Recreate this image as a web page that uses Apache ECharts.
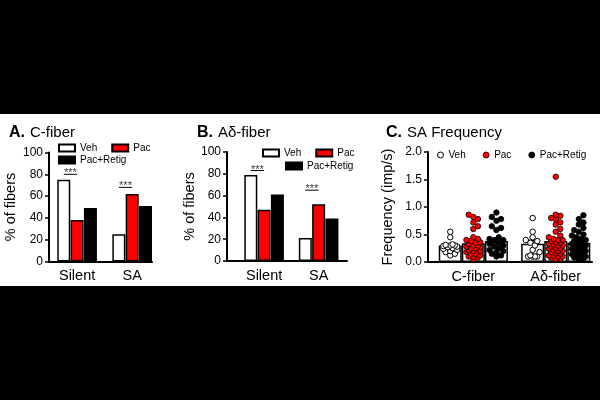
<!DOCTYPE html>
<html>
<head>
<meta charset="utf-8">
<script src="https://cdn.jsdelivr.net/npm/echarts@6/dist/echarts.min.js"></script>
<style>
  html, body { margin: 0; padding: 0; background: #000; }
  #main {
    width: 600px; height: 400px;
    background: linear-gradient(#000 0 114px, #fff 114px 286px, #000 286px);
  }
</style>
</head>
<body>
<div id="main"></div>
<script>
// categories
const statusCats = ['Silent', 'SA']
const fiberCats = ['C-fiber', 'A\u03b4-fiber']
const groupNames = ['Veh', 'Pac', 'Pac+Retig']

// A. C-fiber, % of fibers (Silent, SA)
const cVeh = [75, 25]
const cPac = [38, 62]
const cRetig = [49, 51]

// B. Adelta-fiber, % of fibers (Silent, SA)
const adVeh = [79, 21]
const adPac = [47, 52]
const adRetig = [61, 39]

// C. SA frequency means and sem (C-fiber, Adelta-fiber)
const freqVeh = [0.30, 0.33]
const freqPac = [0.34, 0.38]
const freqRetig = [0.38, 0.35]
const semVeh = [0.03, 0.06]
const semPac = [0.04, 0.04]
const semRetig = [0.06, 0.03]

// C. individual fibers (imp/s)
const cVehDots = [0.55, 0.45, 0.32, 0.31, 0.3, 0.3, 0.29, 0.28, 0.27, 0.25, 0.24, 0.22, 0.2, 0.18, 0.15, 0.12]
const cPacDots = [0.86, 0.82, 0.78, 0.72, 0.65, 0.6, 0.45, 0.42, 0.4, 0.38, 0.36, 0.35, 0.33, 0.3, 0.3, 0.28, 0.27,
  0.25, 0.25, 0.22, 0.2, 0.2, 0.18, 0.15, 0.15, 0.12, 0.1, 0.1, 0.08, 0.05]
const cRetigDots = [0.9, 0.82, 0.78, 0.75, 0.65, 0.62, 0.58, 0.45, 0.42, 0.4, 0.38, 0.35, 0.33, 0.3, 0.28, 0.25,
  0.22, 0.2, 0.18, 0.15, 0.12, 0.1]
const adVehDots = [0.8, 0.55, 0.45, 0.4, 0.38, 0.35, 0.3, 0.22, 0.18, 0.12, 0.1, 0.1, 0.1, 0.1]
const adPacDots = [1.55, 0.86, 0.84, 0.8, 0.78, 0.72, 0.68, 0.6, 0.55, 0.48, 0.45, 0.42, 0.4, 0.4, 0.38, 0.36, 0.35,
  0.33, 0.32, 0.3, 0.3, 0.28, 0.26, 0.25, 0.24, 0.22, 0.2, 0.2, 0.18, 0.16, 0.15, 0.12, 0.12, 0.1, 0.1, 0.08, 0.06, 0.05]
const adRetigDots = [0.85, 0.78, 0.72, 0.68, 0.62, 0.58, 0.55, 0.5, 0.48, 0.45, 0.42, 0.4, 0.38, 0.36, 0.35, 0.33,
  0.32, 0.3, 0.3, 0.28, 0.27, 0.25, 0.24, 0.22, 0.2, 0.2, 0.18, 0.16, 0.15, 0.14, 0.12, 0.1, 0.1, 0.08, 0.06, 0.05]

// significance (Veh vs Pac) heights
const sigA = [80, 68]
const sigB = [83, 65]

const FONT = 'Liberation Sans, Arial, sans-serif'
const RED = '#ff0000'

// layout of each panel (x axis in "category" units)
const panels = [
  { left: 49, top: 152.5, width: 103, height: 109, xMax: 1.87, centers: [0.51, 1.51], step: 0.242, barW: 13 },
  { left: 227, top: 152, width: 120, height: 109, xMax: 2.2, centers: [0.68, 1.68], step: 0.244, barW: 13 },
  { left: 428, top: 152, width: 164, height: 110, xMax: 1.99, centers: [0.55, 1.55], step: 0.28, barW: 23 }
]

let myChart = echarts.init(document.getElementById('main'))

const barStyles = [
  { color: '#fff', borderColor: '#000', borderWidth: 1.5 },
  { color: RED, borderColor: '#000', borderWidth: 1.5 },
  { color: '#000', borderColor: '#000', borderWidth: 1.5 }
]

function xAxisFor (i, labels) {
  const p = panels[i]
  return {
    type: 'value', gridIndex: i, min: 0, max: p.xMax,
    axisLine: { show: true, lineStyle: { color: '#000', width: 2 } },
    axisTick: { show: false },
    splitLine: { show: false },
    axisLabel: {
      customValues: p.centers,
      formatter: function (v) {
        let k = Math.abs(v - p.centers[0]) < Math.abs(v - p.centers[1]) ? 0 : 1
        return labels[k]
      },
      color: '#000', fontSize: 14.5, fontFamily: FONT, margin: 7
    }
  }
}

function yAxisFor (i, max, interval, name, nameGap, fmt) {
  return {
    type: 'value', gridIndex: i, min: 0, max: max, interval: interval,
    name: name, nameLocation: 'middle', nameGap: nameGap,
    nameTextStyle: { color: '#000', fontSize: 14.5, fontFamily: FONT },
    axisLine: { show: true, lineStyle: { color: '#000', width: 2 } },
    axisTick: { show: true, length: 4, lineStyle: { color: '#000', width: 1.5 } },
    splitLine: { show: false },
    axisLabel: { color: '#000', fontSize: 12, fontFamily: FONT, margin: 6, formatter: fmt }
  }
}

function pctBars (i, lists) {
  const p = panels[i]
  return lists.map((vals, g) => ({
    name: groupNames[g], type: 'bar',
    xAxisIndex: i, yAxisIndex: i,
    barWidth: p.barW, barGap: '-100%',
    itemStyle: barStyles[g],
    data: p.centers.map((c, k) => [c + (g - 1) * p.step, vals[k]])
  }))
}

function sigMarks (i, heights) {
  const p = panels[i]
  const out = []
  heights.forEach((h, k) => {
    const x1 = p.centers[k] - p.step
    const x2 = p.centers[k]
    out.push({
      type: 'line', xAxisIndex: i, yAxisIndex: i, symbol: 'none', silent: true,
      lineStyle: { color: '#000', width: 1 }, z: 4,
      data: [[x1, h], [x2, h]]
    })
    out.push({
      type: 'scatter', xAxisIndex: i, yAxisIndex: i, symbolSize: 0, silent: true, z: 4,
      label: { show: true, position: 'inside', offset: [0, -1], formatter: '***', color: '#000', fontSize: 11, fontFamily: FONT },
      data: [[(x1 + x2) / 2, h]]
    })
  })
  return out
}

// spread dots of one group sideways inside its bar (beeswarm)
function swarm (vals, cx) {
  const d = 4.6
  const maxOff = 9
  const pxX = panels[2].width / panels[2].xMax
  const pxY = panels[2].height / 2
  const placed = []
  const out = []
  vals.slice().sort((a, b) => a - b).forEach(v => {
    const py = v * pxY
    let best = 0
    let bestDist = -1
    for (let k = 0; k < 9; k++) {
      const off = (k % 2 ? 1 : -1) * Math.ceil(k / 2) * d / 2 * 1.0
      if (Math.abs(off) > maxOff) continue
      let dist = placed.reduce((m, q) => Math.min(m, Math.hypot(q[0] - off, q[1] - py)), 99)
      if (dist >= d) { best = off; bestDist = dist; break }
      if (dist > bestDist) { best = off; bestDist = dist }
    }
    placed.push([best, py])
    out.push([cx + best / pxX, v])
  })
  return out
}

const pC = panels[2]
const freqMeans = [freqVeh, freqPac, freqRetig]
const freqSems = [semVeh, semPac, semRetig]
const dotSets = [[cVehDots, adVehDots], [cPacDots, adPacDots], [cRetigDots, adRetigDots]]
const dotStyles = [
  { color: '#fff', borderColor: '#000', borderWidth: 1, opacity: 1 },
  { color: RED, borderColor: '#000', borderWidth: 0.8, opacity: 1 },
  { color: '#000', borderColor: '#000', borderWidth: 0.8, opacity: 1 }
]

const freqBars = freqMeans.map((vals, g) => ({
  type: 'bar', xAxisIndex: 2, yAxisIndex: 2,
  barWidth: pC.barW, barGap: '-100%', silent: true,
  itemStyle: { color: '#fff', borderColor: '#000', borderWidth: 1.5 },
  data: pC.centers.map((c, k) => [c + (g - 1) * pC.step, vals[k]])
}))

const errBars = {
  type: 'custom', xAxisIndex: 2, yAxisIndex: 2, z: 3, silent: true,
  renderItem: function (params, api) {
    const x = api.value(0)
    const top = api.coord([x, api.value(1) + api.value(2)])
    const base = api.coord([x, api.value(1)])
    const st = { stroke: '#000', lineWidth: 1.5 }
    return {
      type: 'group',
      children: [
        { type: 'line', shape: { x1: base[0], y1: base[1], x2: top[0], y2: top[1] }, style: st },
        { type: 'line', shape: { x1: top[0] - 4, y1: top[1], x2: top[0] + 4, y2: top[1] }, style: st }
      ]
    }
  },
  data: [].concat(...freqMeans.map((vals, g) =>
    pC.centers.map((c, k) => [c + (g - 1) * pC.step, vals[k], freqSems[g][k]])))
}

const dotSeries = dotSets.map((sets, g) => ({
  name: groupNames[g], type: 'scatter', xAxisIndex: 2, yAxisIndex: 2, z: 5,
  symbolSize: 5.5, itemStyle: dotStyles[g],
  data: [].concat(...sets.map((vals, k) => swarm(vals, pC.centers[k] + (g - 1) * pC.step)))
}))

function titleFor (left, letter, text) {
  return {
    left: left, top: 119,
    text: '{b|' + letter + '} {n|' + text + '}',
    textStyle: {
      fontWeight: 'normal',
      rich: {
        b: { fontSize: 16, fontWeight: 'bold', color: '#000', fontFamily: FONT },
        n: { fontSize: 15, fontWeight: 'normal', color: '#000', fontFamily: FONT }
      }
    }
  }
}

const legendText = { color: '#000', fontSize: 10, fontFamily: FONT }
function rectLegend (left, top, names, gap) {
  return {
    left: left, top: top, data: names, icon: 'rect', itemWidth: 16, itemHeight: 7,
    itemGap: gap, selectedMode: false, textStyle: legendText, padding: 0
  }
}

let option = {
  animation: false,
  title: [
    titleFor(4, 'A.', 'C-fiber'),
    titleFor(192, 'B.', 'A\u03b4-fiber'),
    titleFor(381, 'C.', 'SA Frequency')
  ],
  legend: [
    rectLegend(58, 143, ['Veh', 'Pac'], 14),
    rectLegend(58, 155, ['Pac+Retig'], 10),
    rectLegend(262, 148, ['Veh', 'Pac'], 14),
    rectLegend(285, 161, ['Pac+Retig'], 10),
    {
      left: 437, top: 150, itemWidth: 6, itemHeight: 6, itemGap: 17, selectedMode: false,
      textStyle: legendText, padding: 0,
      data: groupNames.map((n, g) => ({ name: n, icon: 'circle', itemStyle: dotStyles[g] }))
    }
  ],
  grid: panels.map(p => ({ left: p.left, top: p.top, width: p.width, height: p.height })),
  xAxis: [xAxisFor(0, statusCats), xAxisFor(1, statusCats), xAxisFor(2, fiberCats)],
  yAxis: [
    yAxisFor(0, 100, 20, '% of fibers', 31),
    yAxisFor(1, 100, 20, '% of fibers', 22),
    yAxisFor(2, 2, 0.5, 'Frequency (imp/s)', 33, v => v.toFixed(1))
  ],
  series: [].concat(
    pctBars(0, [cVeh, cPac, cRetig]),
    pctBars(1, [adVeh, adPac, adRetig]),
    sigMarks(0, sigA),
    sigMarks(1, sigB),
    freqBars,
    [errBars],
    dotSeries
  )
}
myChart.setOption(option)
window.addEventListener('resize', function () {
  myChart.resize()
})
</script>
</body>
</html>
